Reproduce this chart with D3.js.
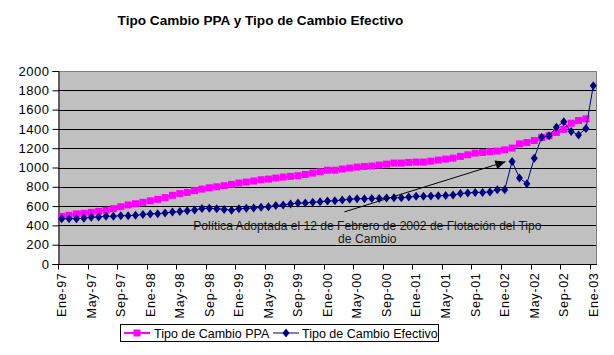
<!DOCTYPE html>
<html>
<head>
<meta charset="utf-8">
<script src="https://cdn.jsdelivr.net/npm/d3@7"></script>
<style>
  html, body { margin: 0; padding: 0; background: #fff; }
  svg { display: block; font-family: "Liberation Sans", Arial, sans-serif; }
</style>
</head>
<body>
<svg id="chart" width="614" height="355"></svg>
<script>
const title = "Tipo Cambio PPA y Tipo de Cambio Efectivo";
const months = ["Ene","Feb","Mar","Abr","May","Jun","Jul","Ago","Sep","Oct","Nov","Dic"];
const years = ["97","98","99","00","01","02","03"];
const categories = [];
years.forEach(yy => months.forEach(m => { if (categories.length < 73) categories.push(m + "-" + yy); }));

const seriesNames = ["Tipo de Cambio PPA", "Tipo de Cambio Efectivo"];
const ppa = [494,505,519,525,536,546,556,574,594,612,625,639,
             655,670,688,712,730,742,760,776,790,800,812,825,
             839,849,860,873,880,891,901,908,915,928,942,956,
             972,972,984,994,1004,1011,1015,1025,1035,1046,1046,1053,
             1056,1056,1066,1077,1087,1097,1115,1132,1149,1156,1163,1170,
             1183,1201,1245,1259,1280,1311,1328,1363,1395,1459,1487,1504,
             null];
const efectivo = [470,470,470,474,484,488,494,494,501,501,505,512,
                  519,522,529,539,543,553,560,575,577,572,566,558,
                  572,577,581,587,594,605,612,622,632,632,639,646,
                  652,656,663,670,677,677,680,680,684,687,687,694,
                  701,701,705,708,711,715,730,736,742,742,746,770,
                  770,1063,891,832,1097,1314,1328,1418,1473,1373,1338,1404,
                  1848];
const yTicks = [0,200,400,600,800,1000,1200,1400,1600,1800,2000];
const annotationLines = ["Política Adoptada el 12 de Febrero de 2002 de Flotación del Tipo", "de Cambio"];

(function () {
const svg = d3.select("#chart");
const pL = 58, pR = 597, pT = 71, pB = 264;

const x = d3.scaleBand().domain(categories).range([pL, pR]).paddingInner(0).paddingOuter(0);
const xc = d => x(d) + x.bandwidth() / 2;
const xi = i => pL + (i + 0.5) * x.bandwidth();
const y = d3.scaleLinear().domain([0, 2000]).range([pB, pT]);

// title
svg.append("text").attr("x", 260.5).attr("y", 25).attr("text-anchor", "middle")
  .attr("font-size", 13.6).attr("font-weight", "bold").attr("fill", "#000").text(title);

// plot background
svg.append("rect").attr("x", pL).attr("y", pT).attr("width", pR - pL).attr("height", pB - pT)
  .attr("fill", "#C0C0C0");

// gridlines
svg.append("g").selectAll("line").data(yTicks.filter(t => t > 0 && t < 2000)).join("line")
  .attr("x1", pL).attr("x2", pR).attr("y1", d => Math.round(y(d)) + 0.5).attr("y2", d => Math.round(y(d)) + 0.5)
  .attr("stroke", "#000").attr("stroke-width", 1);

// plot border (top, right)
svg.append("path").attr("d", `M${pL},${pT + 0.5}H${pR - 0.5}V${pB}`)
  .attr("fill", "none").attr("stroke", "#808080").attr("stroke-width", 1);

// y axis
const yAxis = d3.axisLeft(y).tickValues(yTicks).tickSize(6).tickPadding(3).tickFormat(d3.format("d"));
const gy = svg.append("g").attr("transform", `translate(${pL + 0.5},0)`).call(yAxis);
gy.select(".domain").attr("stroke", "#000");
gy.selectAll(".tick line").attr("stroke", "#000");
gy.selectAll("text").attr("font-size", 13).attr("letter-spacing", 0.5).attr("fill", "#000")
  .attr("font-family", "Liberation Sans, Arial, sans-serif");

// x axis
const tickCats = categories.filter((d, i) => i % 4 === 0);
const gx = svg.append("g").attr("transform", `translate(0,${pB + 0.5})`);
gx.append("line").attr("x1", pL).attr("x2", pR).attr("stroke", "#000");
gx.selectAll("line.tk").data(tickCats).join("line").attr("class", "tk")
  .attr("x1", d => Math.round(x(d)) + 0.5).attr("x2", d => Math.round(x(d)) + 0.5)
  .attr("y1", 0).attr("y2", 5).attr("stroke", "#000");
gx.selectAll("text").data(tickCats).join("text")
  .attr("transform", d => `translate(${xc(d)},8) rotate(-90)`)
  .attr("text-anchor", "end").attr("dy", "0.35em")
  .attr("font-size", 12.5).attr("fill", "#000").attr("letter-spacing", 0.7)
  .text(d => d);

// PPA series
const linePPA = d3.line().defined(d => d != null).x((d, i) => xi(i)).y(d => y(d));
svg.append("path").datum(ppa).attr("d", linePPA).attr("fill", "none").attr("stroke", "#FF00FF").attr("stroke-width", 2);
svg.append("g").selectAll("rect").data(ppa.map((v, i) => [i, v]).filter(d => d[1] != null)).join("rect")
  .attr("x", d => xi(d[0]) - 3.5).attr("y", d => y(d[1]) - 3.5).attr("width", 7).attr("height", 7)
  .attr("fill", "#FF00FF");

// Efectivo series
const lineEf = d3.line().x((d, i) => xi(i)).y(d => y(d));
svg.append("path").datum(efectivo).attr("d", lineEf).attr("fill", "none").attr("stroke", "#000080").attr("stroke-width", 1);
const diamond = (cx, cy) => `M${cx},${cy - 4.5}L${cx + 3.5},${cy}L${cx},${cy + 4.5}L${cx - 3.5},${cy}Z`;
svg.append("g").selectAll("path").data(efectivo.map((v, i) => [i, v])).join("path")
  .attr("d", d => diamond(xi(d[0]), y(d[1]))).attr("fill", "#000080");

// annotation arrow
const ax1 = xi(38.3), ay1 = y(540), ax2 = xi(60.1), ay2 = y(1060);
svg.append("line").attr("x1", ax1).attr("y1", ay1).attr("x2", ax2).attr("y2", ay2)
  .attr("stroke", "#000").attr("stroke-width", 1);
const ang = Math.atan2(ay2 - ay1, ax2 - ax1);
const hl = 10, hw = 4.5;
const bx = ax2 - hl * Math.cos(ang), by = ay2 - hl * Math.sin(ang);
svg.append("path").attr("d",
  `M${ax2},${ay2}L${bx - hw * Math.sin(ang)},${by + hw * Math.cos(ang)}L${bx + hw * Math.sin(ang)},${by - hw * Math.cos(ang)}Z`)
  .attr("fill", "#000");

// annotation text
svg.append("g").selectAll("text").data(annotationLines).join("text")
  .attr("x", xi(41.4)).attr("y", (d, i) => y(357) + i * 13.5)
  .attr("text-anchor", "middle").attr("font-size", 12.1).attr("fill", "#1a1a1a")
  .text(d => d);

// legend
const lg = svg.append("g");
lg.append("rect").attr("x", 120.5).attr("y", 324.5).attr("width", 318).attr("height", 17)
  .attr("fill", "#fff").attr("stroke", "#000");
lg.append("line").attr("x1", 124).attr("x2", 150).attr("y1", 333).attr("y2", 333).attr("stroke", "#FF00FF").attr("stroke-width", 2);
lg.append("rect").attr("x", 133.5).attr("y", 329.5).attr("width", 7).attr("height", 7).attr("fill", "#FF00FF");
lg.append("text").attr("x", 154).attr("y", 337.5).attr("font-size", 12.5).attr("fill", "#000").text(seriesNames[0]);
lg.append("line").attr("x1", 273).attr("x2", 299).attr("y1", 333).attr("y2", 333).attr("stroke", "#000080").attr("stroke-width", 1);
lg.append("path").attr("d", diamond(286, 333)).attr("fill", "#000080");
lg.append("text").attr("x", 302).attr("y", 337.5).attr("font-size", 12.5).attr("fill", "#000").text(seriesNames[1]);
})();
</script>
</body>
</html>
